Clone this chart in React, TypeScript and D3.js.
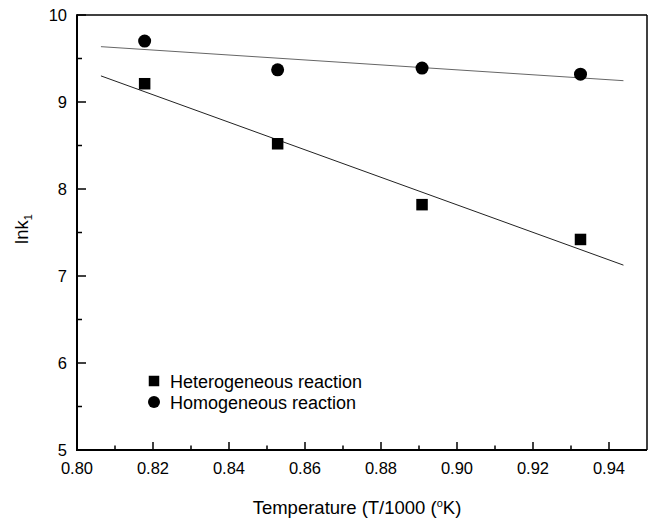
import React from "react";
import * as d3 from "d3";

const tempX = [0.8178, 0.8528, 0.8908, 0.9325];
const heterogeneous = [9.21, 8.52, 7.82, 7.42];
const homogeneous = [9.7, 9.37, 9.39, 9.32];

const fitX = [0.8063, 0.9438];
const heteroFit = [9.3, 7.125];
const homoFit = [9.636, 9.245];

const xMajorTicks = [0.8, 0.82, 0.84, 0.86, 0.88, 0.9, 0.92, 0.94];
const xMinorTicks = [0.81, 0.83, 0.85, 0.87, 0.89, 0.91, 0.93];
const yMajorTicks = [5, 6, 7, 8, 9, 10];
const yMinorTicks = [5.5, 6.5, 7.5, 8.5, 9.5];

const legendLabels = ["Heterogeneous reaction", "Homogeneous reaction"];

const W = 656;
const H = 520;
const L = 77;
const R = 647;
const T = 15;
const B = 450;
const FONT = "'Liberation Sans', Arial, Helvetica, sans-serif";

export default function App() {
  const x = d3.scaleLinear().domain([0.8, 0.95]).range([L, R]);
  const y = d3.scaleLinear().domain([5, 10]).range([B, T]);
  const line = d3
    .line<[number, number]>()
    .x((d) => x(d[0]))
    .y((d) => y(d[1]));
  const hetFitPts: [number, number][] = fitX.map((v, i) => [v, heteroFit[i]]);
  const homFitPts: [number, number][] = fitX.map((v, i) => [v, homoFit[i]]);
  const sq = 11.5;
  const fmt = d3.format(".2f");

  return (
    <svg
      width={W}
      height={H}
      style={{ position: "absolute", left: 0, top: 0, display: "block", background: "#fff" }}
      fontFamily={FONT}
    >
      <rect x={0} y={0} width={W} height={H} fill="#fff" />
      {/* fit lines */}
      <path d={line(homFitPts) || ""} fill="none" stroke="#666" strokeWidth={1} />
      <path d={line(hetFitPts) || ""} fill="none" stroke="#222" strokeWidth={1} />
      {/* data */}
      {tempX.map((v, i) => (
        <rect
          key={"s" + i}
          x={x(v) - sq / 2}
          y={y(heterogeneous[i]) - sq / 2}
          width={sq}
          height={sq}
          fill="#000"
        />
      ))}
      {tempX.map((v, i) => (
        <circle key={"c" + i} cx={x(v)} cy={y(homogeneous[i])} r={6.5} fill="#000" />
      ))}
      {/* frame */}
      <line x1={L} x2={R} y1={T} y2={T} stroke="#000" strokeWidth={1.5} />
      <line x1={R} x2={R} y1={T} y2={B} stroke="#000" strokeWidth={1.5} />
      <line x1={L} x2={R} y1={B} y2={B} stroke="#000" strokeWidth={1.8} />
      <line x1={L} x2={L} y1={T - 0.75} y2={B + 0.9} stroke="#000" strokeWidth={2} />
      {/* x ticks */}
      {xMajorTicks.map((t) => (
        <g key={"xt" + t}>
          <line x1={x(t)} x2={x(t)} y1={B} y2={B - 8} stroke="#000" strokeWidth={1.5} />
          <text x={x(t)} y={B + 24} textAnchor="middle" fontSize={16.5} fill="#000">
            {fmt(t)}
          </text>
        </g>
      ))}
      {xMinorTicks.map((t) => (
        <line key={"xm" + t} x1={x(t)} x2={x(t)} y1={B} y2={B - 4.5} stroke="#000" strokeWidth={1.5} />
      ))}
      {/* y ticks */}
      {yMajorTicks.map((t) => (
        <g key={"yt" + t}>
          <line x1={L} x2={L + 9} y1={y(t)} y2={y(t)} stroke="#000" strokeWidth={1.5} />
          <text x={L - 10} y={y(t) + 6} textAnchor="end" fontSize={16.5} fill="#000">
            {t}
          </text>
        </g>
      ))}
      {yMinorTicks.map((t) => (
        <line key={"ym" + t} x1={L} x2={L + 5} y1={y(t)} y2={y(t)} stroke="#000" strokeWidth={1.5} />
      ))}
      {/* legend */}
      <rect x={154 - 5.25} y={381 - 5.25} width={10.5} height={10.5} fill="#000" />
      <text x={170} y={387.5} fontSize={18} fill="#000">
        {legendLabels[0]}
      </text>
      <circle cx={154} cy={402} r={6} fill="#000" />
      <text x={170} y={408.5} fontSize={18} fill="#000">
        {legendLabels[1]}
      </text>
      {/* axis titles */}
      <text x={357} y={514} textAnchor="middle" fontSize={18.5} fill="#000">
        Temperature (T/1000 (
        <tspan fontSize={11} dy={-7}>o</tspan>
        <tspan dy={7}>K)</tspan>
      </text>
      <text
        transform={`translate(28, 229) rotate(-90)`}
        textAnchor="middle"
        fontSize={18.5}
        fill="#000"
      >
        lnk
        <tspan fontSize={11} dy={4}>1</tspan>
      </text>
    </svg>
  );
}
